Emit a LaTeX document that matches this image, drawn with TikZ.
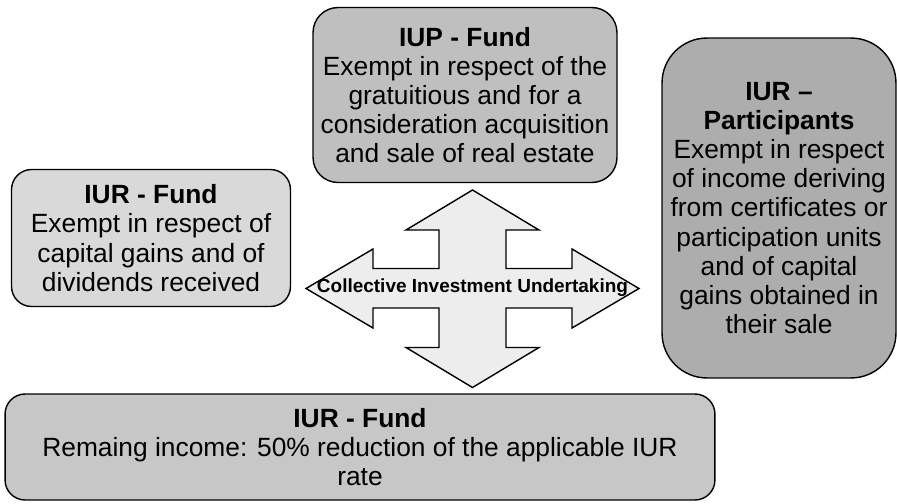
\documentclass[tikz,border=0pt]{standalone}
\usepackage{fontspec}
\setmainfont{Liberation Sans}

\begin{document}
\begin{tikzpicture}[x=0.02cm, y=-0.02cm,
    taxbox/.style={draw, line width=0.8pt, align=center, inner sep=0pt,
        font=\fontsize{15}{16.6}\selectfont},
    hub/.style={inner sep=0pt, font=\fontsize{10.8}{12}\selectfont\bfseries},
    ]
  \useasboundingbox (0,0) rectangle (897,504);

  \node[taxbox, fill=black!25, rounded corners=0.5cm,
        minimum width=6.08cm, minimum height=3.5cm] (iupfund) at (465,95)
      {\textbf{IUP - Fund}\\Exempt in respect of the\\gratuitious and for a\\
       consideration acquisition\\and sale of real estate};
  \node[taxbox, fill=black!15, rounded corners=0.4cm,
        minimum width=5.58cm, minimum height=2.74cm] (iurfund) at (151,238)
      {\textbf{IUR - Fund}\\Exempt in respect of\\capital gains and of\\dividends received};
  \node[taxbox, fill=black!32, rounded corners=0.9cm,
        minimum width=4.68cm, minimum height=6.8cm] (iurpart) at (779,208)
      {\textbf{IUR --}\\\textbf{Participants}\\Exempt in respect\\of income deriving\\
       from certificates or\\participation units\\and of capital\\gains obtained in\\their sale};
  \node[taxbox, fill=black!22, rounded corners=0.4cm,
        minimum width=14.2cm, minimum height=2.12cm] (iurrest) at (360,447)
      {\textbf{IUR - Fund}\\Remaing income: 50\% reduction of the applicable IUR\\rate};

  % four-way arrow round the undertaking
  \coordinate (ciu) at (472.5,288);
  \draw[line width=0.8pt, fill=black!7] (ciu)
      ++(0,-98) -- ++(66.5,40) -- ++(-33,0) -- ++(0,38.5) -- ++(66,0)
      -- ++(0,-19.5) -- ++(67,39.5) -- ++(-67,39.5) -- ++(0,-20) -- ++(-66,0)
      -- ++(0,39.5) -- ++(33,0) -- ++(-66.5,40) -- ++(-66.5,-40) -- ++(33,0)
      -- ++(0,-39.5) -- ++(-66,0) -- ++(0,20) -- ++(-67,-39.5) -- ++(67,-39.5)
      -- ++(0,19.5) -- ++(66,0) -- ++(0,-38.5) -- ++(-33,0) -- cycle;
  \node[hub] (ciutext) at (ciu) {Collective Investment Undertaking};
\end{tikzpicture}
\end{document}
